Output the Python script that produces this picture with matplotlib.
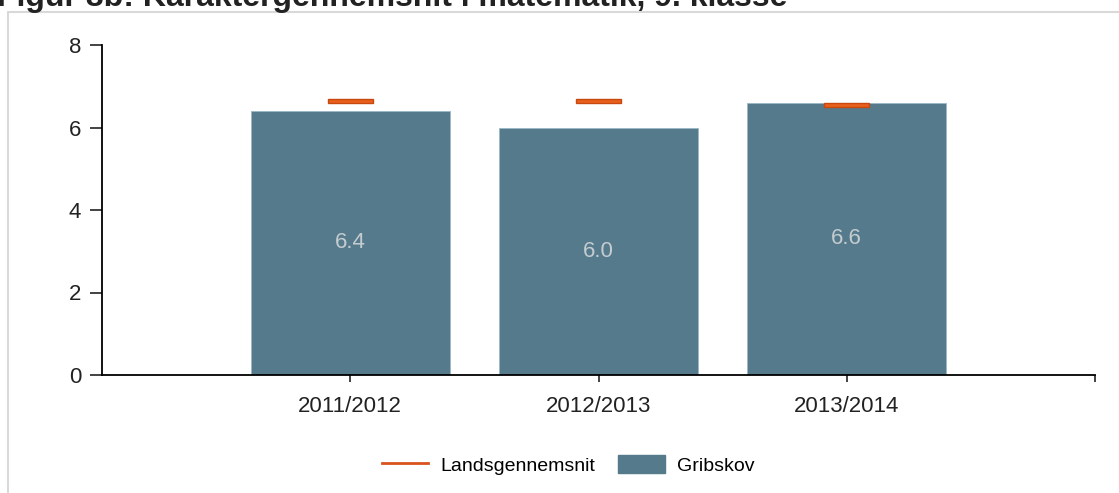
import matplotlib.pyplot as plt
from matplotlib.patches import Rectangle
from matplotlib.lines import Line2D
from matplotlib.patches import Patch

plt.rcParams['font.family'] = ['Liberation Sans', 'DejaVu Sans']

aar = ['2011/2012', '2012/2013', '2013/2014']
gribskov = [6.4, 6.0, 6.6]
lands = [6.64, 6.64, 6.55]

bar_farve = '#557a8c'
linje_farve = '#e8601c'

fig = plt.figure(figsize=(11.19, 4.93), dpi=100)

# grå ramme om figuren
fig.patches.append(Rectangle((8 / 1119, -0.01), 1.02, 1 - 12 / 493 + 0.01,
                             transform=fig.transFigure, fill=False,
                             edgecolor='#d9d9d9', linewidth=1.5))

fig.text(-0.003, 1 - 6 / 493, 'Figur 8b: Karaktergennemsnit i matematik, 9. klasse',
         fontsize=23, fontweight='bold', va='baseline', ha='left', color='#222222')

ax = fig.add_axes([102 / 1119, 1 - 375 / 493, (1095 - 102) / 1119, (375 - 45) / 493])

x = range(len(aar))
ax.bar(x, gribskov, width=0.8, color=bar_farve, edgecolor='#9ab8c6', linewidth=0.6, zorder=2)
for i, v in enumerate(gribskov):
    ax.text(i, v / 2, f'{v:.1f}', ha='center', va='center', fontsize=16, color='#c4ccd0', zorder=3)

for i, v in enumerate(lands):
    ax.add_patch(Rectangle((i - 0.09, v - 0.05), 0.18, 0.1, facecolor=linje_farve,
                           edgecolor='#c84810', linewidth=1.0, zorder=4))

ax.set_xlim(-1, 3)
ax.set_ylim(0, 8)
ax.set_yticks([0, 2, 4, 6, 8])
ax.set_xticks(list(x) + [3])
ax.set_xticklabels(aar + [''])
ax.spines['top'].set_visible(False)
ax.spines['right'].set_visible(False)
ax.spines['left'].set_linewidth(1.3)
ax.spines['bottom'].set_linewidth(1.3)
ax.tick_params(axis='y', length=9, width=1.2, labelsize=16, colors='#222222', pad=6)
ax.tick_params(axis='x', length=5, width=1.2, labelsize=16, colors='#222222', pad=10)
ax.set_facecolor('none')

handles = [Line2D([0], [0], color='#d9531e', linewidth=2),
           Patch(facecolor=bar_farve, edgecolor=bar_farve)]
fig.legend(handles, ['Landsgennemsnit', 'Gribskov'], loc='center',
           bbox_to_anchor=(568 / 1119, 1 - 465 / 493), ncol=2, frameon=False,
           fontsize=14, handlelength=2.4, handleheight=1.0, columnspacing=1.2,
           handletextpad=0.6)

fig.savefig('out.png', dpi=100)
